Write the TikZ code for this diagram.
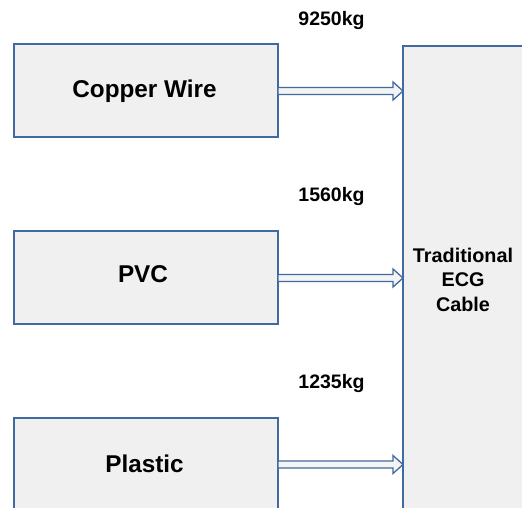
\documentclass[tikz,border=0pt]{standalone}
\usepackage{fontspec}
\setmainfont{Liberation Sans}
\usetikzlibrary{calc}
\definecolor{edge}{RGB}{64,106,160}
\definecolor{boxfill}{RGB}{240,240,240}
\definecolor{arrfill}{RGB}{244,244,244}
\tikzset{
  srcbox/.style={draw=edge, fill=boxfill, line width=1.3pt},
  srclabel/.style={anchor=base, font=\fontsize{24.3}{28}\selectfont\bfseries, inner sep=0pt},
  qty/.style={anchor=base, font=\fontsize{19.5}{23}\selectfont\bfseries, inner sep=0pt},
  flow/.style={draw=edge, fill=arrfill, line width=1.3pt, line join=miter},
}
\begin{document}
\begin{tikzpicture}[x=1pt,y=-1pt]
\useasboundingbox (0,0) rectangle (522,508);
\begin{scope}
\clip (0,0) rectangle (522,508);
\fill[white] (0,0) rectangle (522,508);
% target box
\draw[srcbox] (403,46) rectangle (530,520);
\coordinate (bigw) at (403,46);
% source boxes
\draw[srcbox] (14,44) rectangle (278,137);
\draw[srcbox] (14,231) rectangle (278,324);
\draw[srcbox] (14,418) rectangle (278,520);
\coordinate (cu) at (278,91);
\coordinate (pvc) at (278,278);
\coordinate (pl) at (278,464.5);
\node[srclabel] (cut) at (144.5,98) {Copper Wire};
\node[srclabel] (pvct) at (143,282) {PVC};
\node[srclabel] (plt) at (144.5,472) {Plastic};
\node[qty] (q1) at (331.5,26) {9250kg};
\node[qty] (q2) at (331.5,201) {1560kg};
\node[qty] (q3) at (331.5,388) {1235kg};
\node[anchor=base, font=\fontsize{19.8}{24.5}\selectfont\bfseries, align=center, inner sep=0pt] (big) at (463,311) {Traditional\\ECG\\Cable};
% arrows
\foreach \s in {cu,pvc,pl}{
  \draw[flow] ($(\s)+(0,-3.5)$) -- ($(bigw|-\s)+(-10,-3.5)$) -- ($(bigw|-\s)+(-10,-9)$)
    -- (bigw|-\s) -- ($(bigw|-\s)+(-10,9)$) -- ($(bigw|-\s)+(-10,3.5)$) -- ($(\s)+(0,3.5)$) -- cycle;
}
\end{scope}
\end{tikzpicture}
\end{document}
